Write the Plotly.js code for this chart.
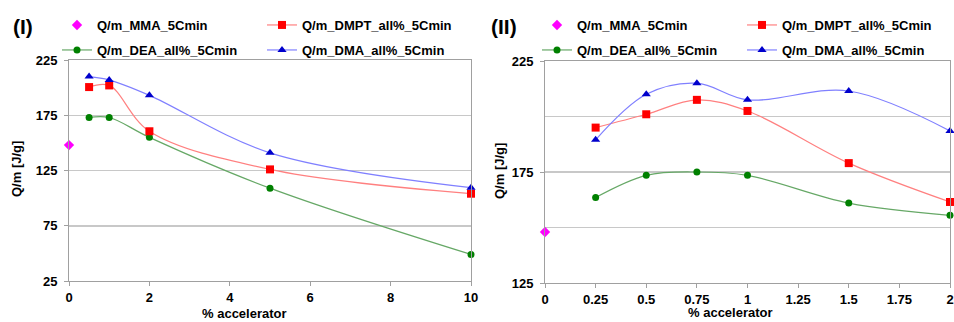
<!DOCTYPE html>
<html>
<head>
<meta charset="utf-8">
<script src="https://cdn.plot.ly/plotly-3.0.1.min.js"></script>
<style>html,body{margin:0;padding:0;background:#fff;}#chart{width:954px;height:322px;}</style>
</head>
<body>
<div id="chart"></div>
<script>
// Series names
const nameMMA = "Q/m_MMA_5Cmin";
const nameDMPT = "Q/m_DMPT_all%_5Cmin";
const nameDEA = "Q/m_DEA_all%_5Cmin";
const nameDMA = "Q/m_DMA_all%_5Cmin";

// MMA reference point (both panels)
const mmaX = [0];
const mmaY = [148];

// Panel (I)
const xI = [0.5, 1, 2, 5, 10];
const dmptI = [200.5, 202, 160.5, 126, 104];
const deaI = [173, 173, 155, 109, 49];
const dmaI = [210, 207, 193, 141, 109.5];

// Panel (II)
const xII = [0.25, 0.5, 0.75, 1, 1.5, 2];
const dmptII = [195, 201, 207.5, 202.5, 179, 161.5];
const deaII = [163.5, 173.5, 175, 173.5, 161, 155.5];
const dmaII = [189.5, 210, 215, 207.5, 211.5, 193.5];

// Axis ticks
const xTicksI = [0, 2, 4, 6, 8, 10];
const yTicksI = [25, 75, 125, 175, 225];
const yTicksII = [125, 175, 225];
const xTicksII = [0, 0.25, 0.5, 0.75, 1, 1.25, 1.5, 1.75, 2];

const FONT = "Liberation Sans, Arial, sans-serif";

function series(x, y, name, xa, ya, leg, mk, lineColor) {
  const t = {
    x: x, y: y, name: name, xaxis: xa, yaxis: ya, legend: leg,
    type: "scatter", cliponaxis: false,
    marker: mk
  };
  if (lineColor) {
    t.mode = "lines+markers";
    t.line = {color: lineColor, width: 1.2, shape: "spline", smoothing: 1};
  } else {
    t.mode = "markers";
  }
  return t;
}

const mkMMA = {symbol: "diamond", color: "#ff00ff", size: 8};
const mkDMPT = {symbol: "square", color: "#ff0000", size: 8};
const mkDEA = {symbol: "circle", color: "#008000", size: 7};
const mkDMA = {symbol: "triangle-up", color: "#0000cc", size: 8};
const lnDMPT = "#ff8080";
const lnDEA = "#66a866";
const lnDMA = "#8080ff";

const data = [
  series(mmaX, mmaY, nameMMA, "x", "y", "legend", mkMMA, null),
  series(xI, deaI, nameDEA, "x", "y", "legend2", mkDEA, lnDEA),
  series(xI, dmptI, nameDMPT, "x", "y", "legend3", mkDMPT, lnDMPT),
  series(xI, dmaI, nameDMA, "x", "y", "legend4", mkDMA, lnDMA),
  series(mmaX, mmaY, nameMMA, "x2", "y2", "legend5", mkMMA, null),
  series(xII, deaII, nameDEA, "x2", "y2", "legend6", mkDEA, lnDEA),
  series(xII, dmptII, nameDMPT, "x2", "y2", "legend7", mkDMPT, lnDMPT),
  series(xII, dmaII, nameDMA, "x2", "y2", "legend8", mkDMA, lnDMA)
];

const tickFont = {family: FONT, size: 13, color: "#000", weight: 700};
const axCommon = {
  showline: true, linecolor: "#a0a0a0", linewidth: 1, mirror: true,
  ticks: "outside", ticklen: 4, tickcolor: "#a0a0a0", tickwidth: 1,
  tickfont: tickFont, zeroline: false, fixedrange: true
};

const legCommon = {
  orientation: "v", xanchor: "left", yanchor: "top",
  font: {family: FONT, size: 13, color: "#000", weight: 700},
  bgcolor: "rgba(0,0,0,0)", borderwidth: 0, itemwidth: 30
};
function leg(xpx, ypx) {
  return Object.assign({}, legCommon, {x: xpx/954, y: 1 - ypx/322});
}

const row1 = 10, row2 = 35;

const layout = {
  width: 954, height: 322,
  margin: {l: 0, r: 0, t: 0, b: 0},
  paper_bgcolor: "#fff", plot_bgcolor: "#fff",
  font: {family: FONT},
  xaxis: Object.assign({}, axCommon, {
    domain: [69/954, 471/954], anchor: "y", range: [0, 10], tickvals: xTicksI,
    showgrid: false
  }),
  yaxis: Object.assign({}, axCommon, {
    domain: [1 - 281/322, 1 - 60/322], anchor: "x", range: [25, 225], tickvals: yTicksI,
    showgrid: true, gridcolor: "#c8c8c8", gridwidth: 1.5, ticklabelstandoff: 4
  }),
  xaxis2: Object.assign({}, axCommon, {
    domain: [545/954, 950/954], anchor: "y2", range: [0, 2], tickvals: xTicksII,
    showgrid: false
  }),
  yaxis2: Object.assign({}, axCommon, {
    domain: [1 - 283/322, 1 - 61/322], anchor: "x2", range: [125, 225], tickvals: yTicksII,
    showgrid: true, gridcolor: "#c8c8c8", gridwidth: 1.5, ticklabelstandoff: 4,
    minor: {dtick: 25, tick0: 125, showgrid: true, gridcolor: "#c8c8c8", gridwidth: 1.5, ticks: ""}
  }),
  legend: leg(57, row1),
  legend2: leg(57, row2),
  legend3: leg(262, row1),
  legend4: leg(262, row2),
  legend5: leg(537, row1),
  legend6: leg(537, row2),
  legend7: leg(742, row1),
  legend8: leg(742, row2),
  showlegend: true,
  annotations: [
    {text: "(I)", xref: "paper", yref: "paper", x: 11/954, y: 1 - 26/322, xanchor: "left", yanchor: "middle",
     showarrow: false, font: {family: FONT, size: 21, color: "#000", weight: 700}},
    {text: "(II)", xref: "paper", yref: "paper", x: 489/954, y: 1 - 26/322, xanchor: "left", yanchor: "middle",
     showarrow: false, font: {family: FONT, size: 21, color: "#000", weight: 700}},
    {text: "% accelerator", xref: "paper", yref: "paper", x: 244/954, y: 1 - 313/322, xanchor: "center", yanchor: "middle",
     showarrow: false, font: {family: FONT, size: 13, color: "#000", weight: 700}},
    {text: "% accelerator", xref: "paper", yref: "paper", x: 730/954, y: 1 - 312/322, xanchor: "center", yanchor: "middle",
     showarrow: false, font: {family: FONT, size: 13, color: "#000", weight: 700}},
    {text: "Q/m [J/g]", xref: "paper", yref: "paper", x: 16/954, y: 1 - 169/322, xanchor: "center", yanchor: "middle",
     textangle: -90, showarrow: false, font: {family: FONT, size: 13, color: "#000", weight: 700}},
    {text: "Q/m [J/g]", xref: "paper", yref: "paper", x: 500/954, y: 1 - 171/322, xanchor: "center", yanchor: "middle",
     textangle: -90, showarrow: false, font: {family: FONT, size: 13, color: "#000", weight: 700}}
  ]
};

Plotly.newPlot("chart", data, layout, {staticPlot: true, displayModeBar: false});
</script>
</body>
</html>
